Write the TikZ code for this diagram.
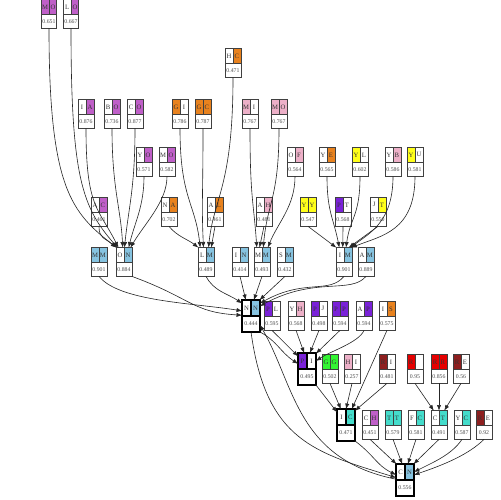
\documentclass[tikz,border=0pt]{standalone}
\usepackage{fontspec}
\setmainfont{Liberation Serif}
\usetikzlibrary{calc,arrows.meta}
\definecolor{mag}{HTML}{BF5FC8}
\definecolor{org}{HTML}{E8821E}
\definecolor{pnk}{HTML}{EDB0C8}
\definecolor{yel}{HTML}{FFFF1A}
\definecolor{pur}{HTML}{7A22D8}
\definecolor{blu}{HTML}{86C3E0}
\definecolor{grn}{HTML}{33F533}
\definecolor{rd}{HTML}{E60000}
\definecolor{drd}{HTML}{8E1F1F}
\definecolor{tea}{HTML}{44DCCB}
\tikzset{
  nbox/.style={inner sep=0pt, minimum width=0.3cm, minimum height=0.56cm},
  bbox/.style={inner sep=0pt, minimum width=0.34cm, minimum height=0.62cm},
  nfr/.style={draw=black!75, line width=0.4pt},
  bfr/.style={draw=black, line width=1.2pt},
  lett/.style={font=\fontsize{3.8}{4.5}\selectfont, inner sep=0pt, text=black!80},
  num/.style={font=\fontsize{3.3}{4}\selectfont, inner sep=0pt, text=black!70},
  conn/.style={-{Latex[length=3.2pt,width=2.4pt]}, line width=0.35pt, black!85},
}
% #1 name, #2 x,y, #3 n|b, #4 left colour, #5 right colour, #6 left letter, #7 right letter, #8 number
\newcommand\tn[8]{%
  \node[#3box] (#1) at (#2) {};
  \fill[#4] (#1.north west) rectangle (#1.center);
  \fill[#5] (#1.north) rectangle (#1.east);
  \node[lett] (#1-l) at ($(#1.north west)!0.5!(#1.center)$) {#6};
  \node[lett] (#1-r) at ($(#1.north)!0.5!(#1.east)$) {#7};
  \node[num] (#1-n) at ($(#1.west)!0.5!(#1.south east)$) {#8};
  \draw[#3fr] (#1.west) -- (#1.east) (#1.north) -- (#1.center);
  \draw[#3fr] (#1.north west) rectangle (#1.south east);
}
\begin{document}
\begin{tikzpicture}[x=0.02cm,y=-0.02cm]
\useasboundingbox (0,0) rectangle (500,500);
% top
\tn{t1}{49,14}{n}{mag}{mag}{M}{O}{0.651}
\tn{t2}{71,14}{n}{white}{mag}{L}{O}{0.667}
\tn{H}{233,63}{n}{white}{org}{H}{C}{0.471}
% row 1
\tn{r1a}{86,114}{n}{white}{mag}{I}{A}{0.876}
\tn{r1b}{112,114}{n}{white}{mag}{B}{O}{0.736}
\tn{r1c}{135,114}{n}{white}{mag}{C}{O}{0.877}
\tn{r1d}{180,114}{n}{org}{white}{G}{I}{0.786}
\tn{r1e}{203,114}{n}{org}{org}{G}{C}{0.787}
\tn{r1f}{250,114}{n}{pnk}{white}{M}{I}{0.767}
\tn{r1g}{279,114}{n}{pnk}{pnk}{M}{O}{0.767}
% row 2
\tn{r2a}{144,162}{n}{white}{mag}{Y}{O}{0.571}
\tn{r2b}{167,162}{n}{white}{mag}{M}{O}{0.582}
\tn{r2c}{295,162}{n}{white}{pnk}{O}{F}{0.564}
\tn{r2d}{327,162}{n}{white}{org}{Y}{E}{0.565}
\tn{r2e}{360,162}{n}{yel}{white}{Y}{L}{0.602}
\tn{r2f}{393,162}{n}{white}{pnk}{Y}{B}{0.586}
\tn{r2g}{415,162}{n}{yel}{white}{Y}{U}{0.581}
% row 3
\tn{r3a}{99,212}{n}{white}{mag}{A}{C}{0.461}
\tn{r3b}{169,212}{n}{white}{org}{N}{A}{0.702}
\tn{r3c}{215,212}{n}{white}{org}{A}{L}{0.461}
\tn{r3d}{264,212}{n}{white}{pnk}{A}{H}{0.481}
\tn{r3e}{308,212}{n}{yel}{yel}{Y}{Y}{0.547}
\tn{r3f}{343,212}{n}{pur}{white}{P}{T}{0.568}
\tn{r3g}{378,212}{n}{white}{yel}{J}{T}{0.550}
% blue row
\tn{b1}{99,262}{n}{blu}{blu}{M}{M}{0.901}
\tn{b2}{124,262}{n}{white}{blu}{O}{N}{0.884}
\tn{b3}{206,262}{n}{white}{blu}{L}{M}{0.489}
\tn{b4}{240,262}{n}{white}{blu}{I}{N}{0.414}
\tn{b5}{262,262}{n}{white}{blu}{M}{M}{0.493}
\tn{b6}{285,262}{n}{white}{blu}{S}{M}{0.432}
\tn{b7}{344,262}{n}{white}{blu}{I}{M}{0.901}
\tn{b8}{366,262}{n}{white}{blu}{A}{M}{0.889}
% hub row
\tn{hub}{251,316}{b}{white}{blu}{N}{N}{0.444}
\tn{h1}{272,316}{n}{pur}{white}{P}{L}{0.595}
\tn{h2}{296,316}{n}{white}{pnk}{Y}{H}{0.568}
\tn{h3}{319,316}{n}{pur}{white}{P}{J}{0.498}
\tn{h4}{340,316}{n}{pur}{pur}{P}{P}{0.594}
\tn{h5}{364,316}{n}{white}{pur}{A}{P}{0.594}
\tn{h6}{387,316}{n}{white}{org}{I}{S}{0.575}
% row g
\tn{pb}{307,369}{b}{pur}{white}{P}{I}{0.495}
\tn{g1}{330,369}{n}{grn}{grn}{G}{G}{0.502}
\tn{g2}{352,369}{n}{pnk}{white}{H}{I}{0.257}
\tn{g3}{387,369}{n}{drd}{white}{R}{I}{0.481}
\tn{g4}{415,369}{n}{rd}{white}{R}{}{0.95}
\tn{g5}{439,369}{n}{rd}{rd}{R}{R}{0.856}
\tn{g6}{461,369}{n}{drd}{white}{R}{E}{0.56}
% teal row
\tn{tb}{346,425}{b}{white}{tea}{I}{C}{0.471}
\tn{k1}{370,425}{n}{white}{mag}{C}{H}{0.451}
\tn{k2}{393,425}{n}{tea}{tea}{T}{T}{0.579}
\tn{k3}{416,425}{n}{white}{tea}{F}{C}{0.581}
\tn{k4}{439,425}{n}{white}{tea}{C}{T}{0.491}
\tn{k5}{462,425}{n}{white}{tea}{Y}{C}{0.587}
\tn{k6}{484,425}{n}{drd}{white}{R}{E}{0.92}
% root
\tn{root}{405,480}{b}{white}{blu}{C}{N}{0.556}

% edges into b2
\draw[conn] (t1.south) .. controls +(0,160) and +(-45,-35) .. (b2.117);
\draw[conn] (t2.south) .. controls +(0,150) and +(-35,-40) .. (b2.114);
\draw[conn] (r1a.south) .. controls +(0,80) and +(-20,-40) .. (b2.111);
\draw[conn] (r3a.south) .. controls +(0,12) and +(-12,-10) .. (b2.118);
\draw[conn] (r1b.south) .. controls +(0,60) and +(-2,-40) .. (b2.95);
\draw[conn] (r1c.south) .. controls +(0,60) and +(4,-40) .. (b2.88);
\draw[conn] (r2a.south) .. controls +(0,30) and +(6,-25) .. (b2.72);
\draw[conn] (r2b.south) .. controls +(0,25) and +(15,-25) .. (b2.66);
% edges into b3
\draw[conn] (r1d.south) .. controls +(0,70) and +(-5,-45) .. (b3.112);
\draw[conn] (r1e.south) .. controls +(0,70) and +(-2,-45) .. (b3.100);
\draw[conn] (H.south) .. controls +(0,110) and +(5,-50) .. (b3.80);
\draw[conn] (r3b.south) .. controls +(8,10) and +(-10,-8) .. (b3.118);
\draw[conn] (r3c.south) -- (b3.70);
% edges into b5
\draw[conn] (r1f.south) .. controls +(0,70) and +(-3,-45) .. (b5.110);
\draw[conn] (r1g.south) .. controls +(0,70) and +(4,-45) .. (b5.85);
\draw[conn] (r2c.south) .. controls +(0,30) and +(10,-25) .. (b5.68);
\draw[conn] (r3d.south) -- (b5.100);
% edges into b7
\draw[conn] (r3e.south) -- (b7.118);
\draw[conn] (r2d.south) .. controls +(0,35) and +(-6,-30) .. (b7.108);
\draw[conn] (r3f.south) -- (b7.95);
\draw[conn] (r2e.south) .. controls +(0,40) and +(4,-30) .. (b7.82);
\draw[conn] (r3g.south) -- (b7.72);
\draw[conn] (r2f.south) .. controls +(0,45) and +(20,-15) .. (b7.66);
\draw[conn] (r2g.south) .. controls +(0,55) and +(30,-12) .. (b7.63);
% edges into hub
\draw[conn] (b1.south) .. controls +(20,25) and +(-50,-8) .. (hub.150);
\draw[conn] (b2.south east) .. controls +(60,22) and +(-50,-3) .. (hub.175);
\draw[conn] (b3.south) .. controls +(8,15) and +(-15,-10) .. (hub.125);
\draw[conn] (b4.south) -- (hub.108);
\draw[conn] (b5.south) -- (hub.80);
\draw[conn] (b6.south) -- (hub.62);
\draw[conn] (b7.south) .. controls +(-15,18) and +(45,-25) .. (hub.55);
\draw[conn] (b8.south) .. controls +(-15,18) and +(55,-30) .. (hub.48);
% edges into pb
\draw[conn] (hub.south east) .. controls +(18,10) and +(-18,-12) .. (pb.150);
\draw[conn] (h1.south) -- (pb.125);
\draw[conn] (h2.south) -- (pb.100);
\draw[conn] (h3.south) -- (pb.80);
\draw[conn] (h4.south) -- (pb.60);
\draw[conn] (h5.south) .. controls +(-5,12) and +(15,-10) .. (pb.42);
% edges into tb
\draw[conn] (pb.south east) -- (tb.125);
\draw[conn] (g1.south) -- (tb.108);
\draw[conn] (g2.south) -- (tb.90);
\draw[conn] (h6.south) -- (tb.70);
\draw[conn] (g3.south) -- (tb.58);
% edges into k4
\draw[conn] (g4.south) -- (k4.110);
\draw[conn] (g5.south) -- (k4.90);
\draw[conn] (g6.south) -- (k4.70);
% edges into root
\draw[conn] (tb.south east) .. controls +(20,15) and +(-20,-10) .. (root.150);
\draw[conn] (k1.south) -- (root.118);
\draw[conn] (k2.south) -- (root.100);
\draw[conn] (k3.south) -- (root.80);
\draw[conn] (k4.south) -- (root.62);
\draw[conn] (k5.south) .. controls +(-10,15) and +(20,-10) .. (root.42);
\draw[conn] (k6.south) .. controls +(-15,15) and +(30,-10) .. (root.30);
\draw[conn] (hub.south) .. controls +(15,110) and +(-80,-25) .. (root.165);
\draw[conn] (root.175) .. controls +(-100,-20) and +(35,60) .. (hub.-45);
\end{tikzpicture}
\end{document}
